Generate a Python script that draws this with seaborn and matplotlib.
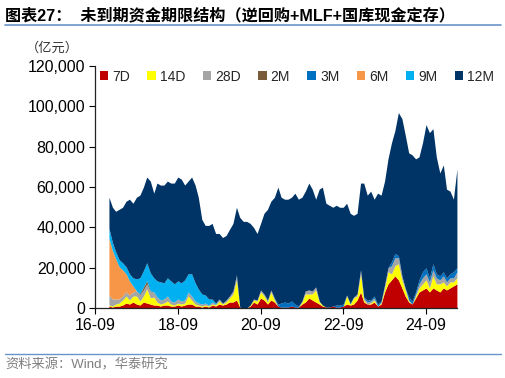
import matplotlib

matplotlib.use("Agg")
import matplotlib.dates as mdates
import matplotlib.pyplot as plt
import numpy as np
import pandas as pd
import seaborn as sns
from matplotlib.lines import Line2D
from matplotlib.patches import Patch
from matplotlib.ticker import FuncFormatter

# monthly points, 2017-01 .. 2025-06, 亿元
MONTHS = pd.date_range("2017-01-01", "2025-06-01", freq="MS")
SERIES = ["7D", "14D", "28D", "2M", "3M", "6M", "9M", "12M"]
COLORS = ["#C00000", "#FFFF00", "#A5A5A5", "#7B5C3A", "#0070C0", "#F79646", "#00B0F0", "#003366"]

d7 = [1000, 500, 1000, 1000, 1500, 2500, 2000, 3000, 2000, 1500, 3000, 2500,
      2000, 1500, 1500, 1000, 1500, 1500, 1000, 1000, 1500, 1000, 1500, 2000,
      2000, 1000, 1000, 500, 1000, 500, 1500, 1000, 2000, 1500, 2000, 3000,
      3000, 4000, 500, 0, 0, 1000, 3000, 2000, 5000, 4000, 2000, 4000,
      3000, 1000, 500, 500, 500, 1000, 500, 500, 2000, 3000, 5000, 4000,
      3000, 2000, 1000, 500, 500, 1000, 500, 500, 1000, 2000, 1500, 2000,
      4000, 8000, 3000, 2000, 2000, 3000, 1000, 2000, 8000, 12000, 14000, 16000,
      14000, 10000, 6000, 3000, 2000, 5000, 8000, 9000, 10000, 8000, 10000, 9000,
      8000, 10000, 9000, 10000, 11000, 12000]
d14 = [500, 500, 1000, 1500, 2500, 3500, 2000, 3000, 4000, 2000, 3000, 7000,
       3000, 4000, 1500, 1000, 1000, 2000, 1000, 500, 1000, 1000, 1000, 4000,
       2000, 1000, 500, 500, 500, 500, 500, 500, 1500, 500, 1000, 2000,
       4000, 10000, 0, 0, 0, 500, 1000, 1500, 3000, 2000, 1000, 4000,
       1000, 0, 0, 0, 0, 0, 0, 0, 1000, 4000, 2000, 3000,
       6000, 1000, 500, 0, 0, 0, 0, 0, 0, 4000, 500, 3000,
       2000, 9000, 1000, 0, 500, 1000, 0, 500, 2000, 6000, 3000, 5000,
       8000, 4000, 3000, 500, 0, 1000, 2000, 3000, 4000, 2000, 6000, 3000,
       4000, 3000, 2000, 3000, 2000, 3000]
d28 = [5000, 3500, 2500, 2000, 2000, 2000, 2500, 2000, 2500, 3000, 3000, 2500,
       3000, 2500, 2500, 2000, 2000, 2500, 1500, 1500, 2000, 1500, 1500, 2000,
       2000, 1500, 1000, 1000, 1000, 500, 1000, 500, 1000, 500, 1000, 1000,
       1500, 2000, 0, 0, 0, 0, 500, 500, 1000, 1000, 1000, 1000,
       500, 0, 0, 0, 0, 0, 0, 0, 500, 1500, 2000, 1500,
       1500, 500, 0, 0, 0, 0, 0, 0, 0, 500, 0, 500,
       1000, 2000, 1000, 1000, 1000, 1000, 0, 500, 1500, 2000, 4000, 4000,
       3000, 2000, 1000, 500, 0, 1000, 2000, 3000, 3000, 3000, 3000, 3000,
       2000, 3000, 2000, 2000, 2000, 3000]
d2m = [0, 0, 0, 0, 0, 0, 0, 0, 0, 500, 1500, 1500,
       500, 0, 0, 0, 0, 0, 0, 0, 0, 0, 0, 0] + [0] * 78
d3m = [0] * 36 + [
    0, 500, 0, 0, 0, 0, 0, 0, 0, 0, 0, 0,
    500, 1000, 2000, 2500, 2000, 2500, 1500, 500, 0, 0, 0, 0,
    0, 0, 0, 0, 0, 0, 1000, 1000, 1000, 0, 500, 0,
    0, 0, 500, 1000, 500, 1000, 1000, 500, 0, 0, 2000, 2000,
    1000, 0, 0, 1500, 1500, 1000, 2000, 3000, 3000, 2000, 3000, 2000,
    2000, 2000, 2000, 2000, 3000, 2000]
d6m = [28000, 24000, 20000, 16000, 13000, 9000, 7000, 3000] + [0] * 94
d9m = ([5000, 4000, 3500, 3500, 3500, 3500, 3500, 4000, 6000, 8000, 8000, 9000,
        9000, 7000, 8000, 9000, 8000, 9000, 10000, 9000, 9000, 9000, 10000, 9000,
        11000, 9000, 7000, 5000, 4000, 3000, 1500, 500] + [0] * 70)
d12m = [15500, 17500, 20000, 25000, 27500, 32500, 37000, 37000, 40500, 41000, 41500, 42500,
        45500, 42000, 48500, 48000, 48500, 48000, 48500, 50000, 51500, 51500, 47000, 46000,
        48000, 48500, 45500, 37000, 34500, 36500, 37500, 34500, 32500, 32500, 32000, 33000,
        33500, 33500, 44500, 43000, 43000, 40500, 35500, 33000, 33000, 40000, 45000, 44000,
        50000, 58000, 52500, 51000, 51500, 51500, 55000, 53000, 51500, 49500, 53000, 50500,
        43500, 55500, 58500, 51500, 50500, 49000, 49500, 48500, 48000, 45500, 44500, 40500,
        40000, 43000, 56500, 52000, 54000, 48000, 55000, 52500, 51500, 54000, 59000, 61000,
        71000, 78000, 76000, 71500, 72500, 66000, 61000, 64000, 71000, 72000, 67000, 58000,
        51000, 53000, 44000, 41000, 36000, 49000]

XTICKS = pd.to_datetime(["2016-09-01", "2018-09-01", "2020-09-01", "2022-09-01", "2024-09-01"])
YTICKS = [0, 20000, 40000, 60000, 80000, 100000, 120000]

sns.set_theme(style="ticks")
plt.rcParams["font.family"] = ["Liberation Sans", "Noto Sans CJK SC"]
plt.rcParams["axes.unicode_minus"] = False

fig = plt.figure(figsize=(5.06, 3.78), dpi=100)
ax = fig.add_axes([0.188, 0.185, 0.715, 0.64])

daten = [d7, d14, d28, d2m, d3m, d6m, d9m, d12m]
ax.stackplot(MONTHS, *[np.array(s) for s in daten], colors=COLORS, linewidth=0)

ax.set_xlim(pd.Timestamp("2016-09-01"), pd.Timestamp("2025-06-01"))
ax.set_ylim(0, 120000)
ax.set_xticks(XTICKS)
ax.xaxis.set_major_formatter(mdates.DateFormatter("%y-%m"))
ax.set_yticks(YTICKS)
ax.yaxis.set_major_formatter(FuncFormatter(lambda v, _: f"{v:,.0f}"))
ax.tick_params(axis="both", direction="out", length=4, width=0.8, colors="black",
               labelsize=11.5, pad=3)
sns.despine(ax=ax)
for s in ("left", "bottom"):
    ax.spines[s].set_color("#222222")
    ax.spines[s].set_linewidth(0.9)
ax.grid(False)

handles = [Patch(facecolor=c, edgecolor="none") for c in COLORS]
ax.legend(handles, SERIES, ncol=8, loc="upper left", bbox_to_anchor=(-0.01, 1.02),
          frameon=False, fontsize=10, handlelength=0.6, handleheight=0.6,
          handletextpad=0.3, columnspacing=1.25, borderaxespad=0.2)

fig.text(0.052, 0.862, "（亿元）", fontsize=9.5, color="#333333",
         family=["Noto Sans CJK SC"])
fig.text(0.01, 0.958, "图表27：  未到期资金期限结构（逆回购+MLF+国库现金定存）",
         fontsize=11.6, fontweight="bold", color="black", va="center")
fig.add_artist(Line2D([0.01, 0.99], [0.934, 0.934], color="#6A93C8", lw=1.2))
fig.add_artist(Line2D([0.01, 0.99], [0.063, 0.063], color="#6A93C8", lw=1.0))
fig.text(0.01, 0.035, "资料来源：Wind，华泰研究", fontsize=9.5, color="#7F7F7F", va="center")

fig.savefig("out.png", dpi=100)
